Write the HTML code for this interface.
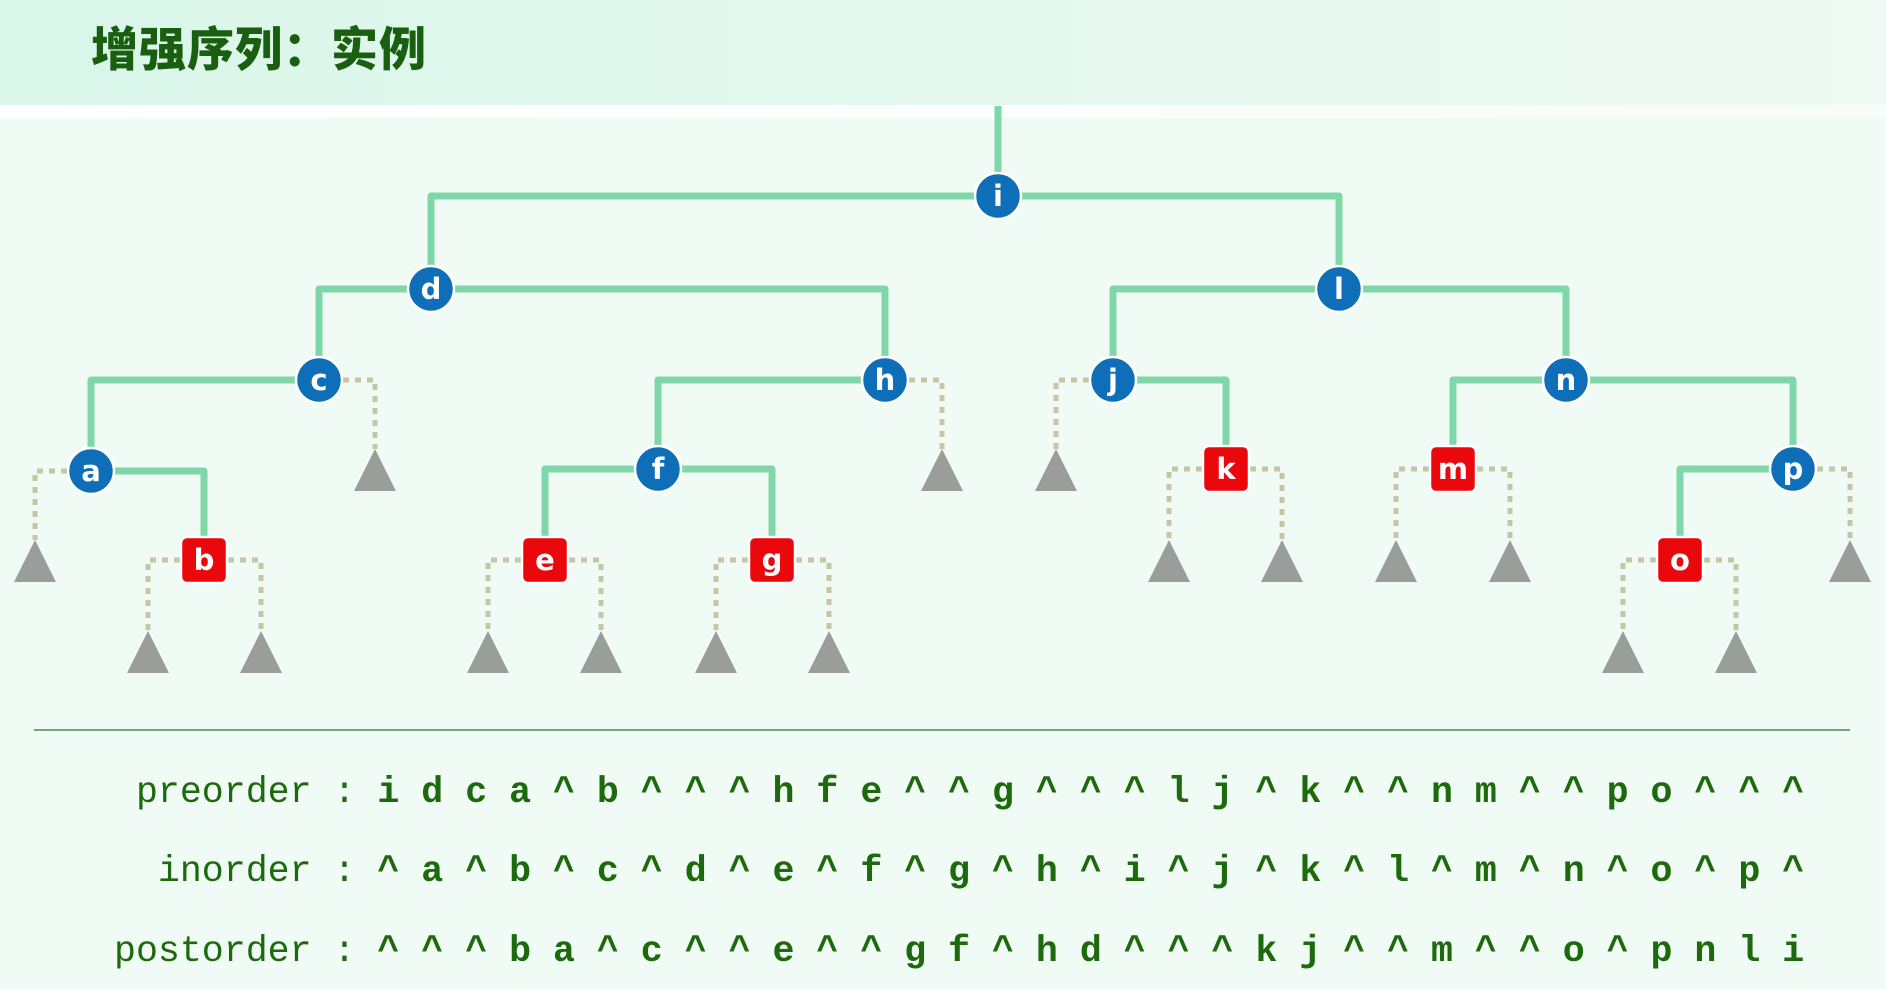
<!DOCTYPE html>
<html><head><meta charset="utf-8"><style>
html,body{margin:0;padding:0;}
body{width:1886px;height:989px;position:relative;overflow:hidden;background:#f1fbf5;}
.hdr{position:absolute;left:0;top:0;width:1886px;height:105px;background:linear-gradient(90deg,#d9f6e9 0%,#e6f8ef 60%,#eefaf3 100%);}
.wh{position:absolute;left:0;top:105px;width:1886px;height:13px;background:linear-gradient(90deg,#ffffff,#f7fdf9);}
.title{position:absolute;left:91px;top:20px;font-family:"Liberation Sans","Noto Sans CJK SC",sans-serif;font-weight:900;font-size:47px;color:#1a5e10;letter-spacing:1px;line-height:60px;}
.seq{position:absolute;left:114px;font-family:"Liberation Mono","DejaVu Sans Mono",monospace;font-size:36.6px;line-height:1;color:#1c6a0c;white-space:pre;}
.seq b{font-weight:bold;}
</style></head><body>
<div class="hdr"></div><div class="wh"></div>
<div class="title">增强序列：实例</div>
<svg width="1886" height="989" style="position:absolute;left:0;top:0">
<g fill="none" stroke="#7fd6a7" stroke-width="7" stroke-linejoin="round">
<path d="M998 106 V196"/>
<path d="M431 289 V196 H1339 V289"/>
<path d="M319 380 V289 H885 V380"/>
<path d="M1113 380 V289 H1566 V380"/>
<path d="M91 471 V380 H319"/>
<path d="M658 469 V380 H885"/>
<path d="M1113 380 H1226 V469"/>
<path d="M1453 469 V380 H1793 V469"/>
<path d="M91 471 H204 V560"/>
<path d="M545 560 V469 H772 V560"/>
<path d="M1680 560 V469 H1793"/>
</g>
<g fill="none" stroke="#c6c6a4" stroke-width="5" stroke-dasharray="6 6">
<path d="M91 471 H35 V540"/>
<path d="M319 380 H375 V449"/>
<path d="M204 560 H148 V631"/><path d="M204 560 H261 V631"/>
<path d="M885 380 H942 V449"/>
<path d="M1113 380 H1056 V449"/>
<path d="M1226 469 H1169 V540"/><path d="M1226 469 H1282 V540"/>
<path d="M1453 469 H1396 V540"/><path d="M1453 469 H1510 V540"/>
<path d="M1793 469 H1850 V540"/>
<path d="M545 560 H488 V631"/><path d="M545 560 H601 V631"/>
<path d="M772 560 H716 V631"/><path d="M772 560 H829 V631"/>
<path d="M1680 560 H1623 V631"/><path d="M1680 560 H1736 V631"/>
</g>
<g fill="#9a9e9a">
<polygon points="35,540 14,582 56,582"/>
<polygon points="375,449 354,491 396,491"/>
<polygon points="148,631 127,673 169,673"/>
<polygon points="261,631 240,673 282,673"/>
<polygon points="942,449 921,491 963,491"/>
<polygon points="1056,449 1035,491 1077,491"/>
<polygon points="1169,540 1148,582 1190,582"/>
<polygon points="1282,540 1261,582 1303,582"/>
<polygon points="1396,540 1375,582 1417,582"/>
<polygon points="1510,540 1489,582 1531,582"/>
<polygon points="1850,540 1829,582 1871,582"/>
<polygon points="488,631 467,673 509,673"/>
<polygon points="601,631 580,673 622,673"/>
<polygon points="716,631 695,673 737,673"/>
<polygon points="829,631 808,673 850,673"/>
<polygon points="1623,631 1602,673 1644,673"/>
<polygon points="1736,631 1715,673 1757,673"/>
</g>
<g fill="#0e6eb7" stroke="#ffffff" stroke-width="2.5">
<circle cx="998" cy="196" r="23"/>
<circle cx="431" cy="289" r="23"/>
<circle cx="1339" cy="289" r="23"/>
<circle cx="319" cy="380" r="23"/>
<circle cx="885" cy="380" r="23"/>
<circle cx="1113" cy="380" r="23"/>
<circle cx="1566" cy="380" r="23"/>
<circle cx="91" cy="471" r="23"/>
<circle cx="658" cy="469" r="23"/>
<circle cx="1793" cy="469" r="23"/>
</g>
<g fill="#ea080d" stroke="#ffffff" stroke-width="2.5">
<rect x="1203" y="446" width="46" height="46" rx="6"/>
<rect x="1430" y="446" width="46" height="46" rx="6"/>
<rect x="181" y="537" width="46" height="46" rx="6"/>
<rect x="522" y="537" width="46" height="46" rx="6"/>
<rect x="749" y="537" width="46" height="46" rx="6"/>
<rect x="1657" y="537" width="46" height="46" rx="6"/>
</g>
<g fill="#ffffff" font-family="DejaVu Sans, Liberation Sans, sans-serif" font-size="29" font-weight="bold" text-anchor="middle">
<text x="998" y="206">i</text>
<text x="431" y="299">d</text>
<text x="1339" y="299">l</text>
<text x="319" y="390">c</text>
<text x="885" y="390">h</text>
<text x="1113" y="390">j</text>
<text x="1566" y="390">n</text>
<text x="91" y="481">a</text>
<text x="658" y="479">f</text>
<text x="1793" y="479">p</text>
<text x="1226" y="479">k</text>
<text x="1453" y="479">m</text>
<text x="204" y="570">b</text>
<text x="545" y="570">e</text>
<text x="772" y="570">g</text>
<text x="1680" y="570">o</text>
</g>
<line x1="34" y1="730" x2="1850" y2="730" stroke="#6fa87d" stroke-width="2"/>
</svg>
<div class="seq" style="top:775px"> preorder : <b>i d c a ^ b ^ ^ ^ h f e ^ ^ g ^ ^ ^ l j ^ k ^ ^ n m ^ ^ p o ^ ^ ^</b></div>
<div class="seq" style="top:854px">  inorder : <b>^ a ^ b ^ c ^ d ^ e ^ f ^ g ^ h ^ i ^ j ^ k ^ l ^ m ^ n ^ o ^ p ^</b></div>
<div class="seq" style="top:934px">postorder : <b>^ ^ ^ b a ^ c ^ ^ e ^ ^ g f ^ h d ^ ^ ^ k j ^ ^ m ^ ^ o ^ p n l i</b></div>
</body></html>
